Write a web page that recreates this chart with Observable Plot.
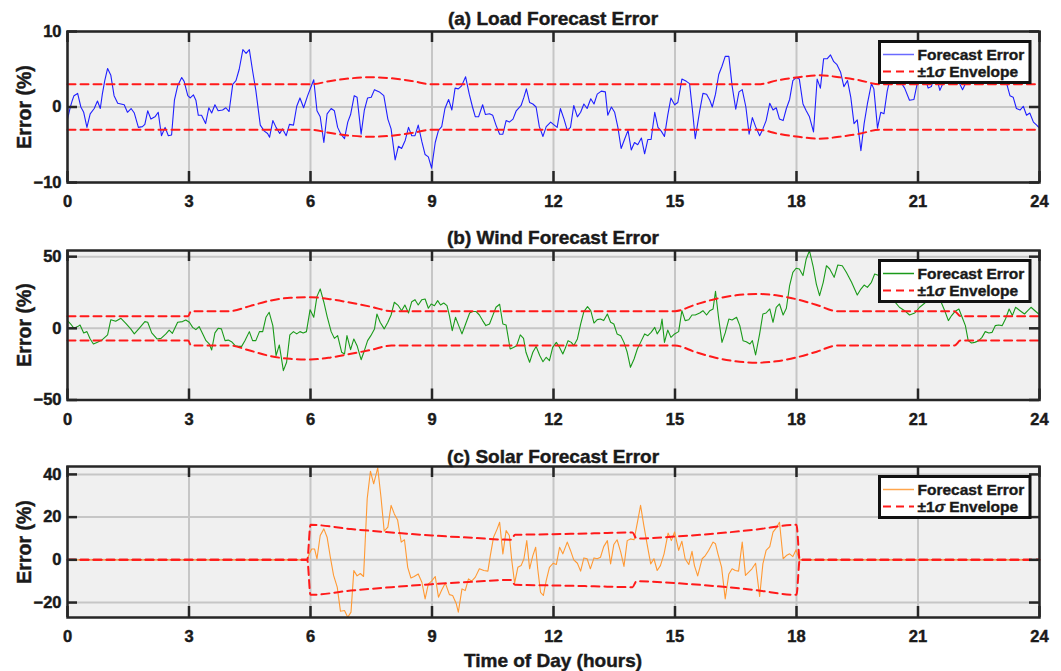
<!DOCTYPE html>
<html><head><meta charset="utf-8">
<script src="https://cdn.jsdelivr.net/npm/d3@7"></script>
<script src="https://cdn.jsdelivr.net/npm/@observablehq/plot@0.6"></script>
<style>
body{margin:0;background:#fff;}
#wrap{position:relative;width:1061px;height:671px;font-family:"Liberation Sans",Arial,Helvetica,sans-serif;font-weight:bold;color:#262626;overflow:hidden;}
.panel{position:absolute;left:0;}
.panel text{stroke:#1a1a1a;stroke-width:0.45px;}
.title{position:absolute;left:67px;width:972px;text-align:center;font-size:19px;line-height:20px;color:#1a1a1a;-webkit-text-stroke:0.45px #1a1a1a;}
.ylab{position:absolute;left:-51px;width:150px;height:22px;line-height:22px;text-align:center;font-size:19.5px;transform:rotate(-90deg);color:#1a1a1a;-webkit-text-stroke:0.45px #1a1a1a;}
.xlab{position:absolute;left:67px;width:972px;text-align:center;font-size:19px;line-height:22px;color:#1a1a1a;-webkit-text-stroke:0.45px #1a1a1a;}
.legend{position:absolute;left:878px;}
.legend text{stroke:#1a1a1a;stroke-width:0.4px;}
</style>
</head><body>
<div id="wrap"></div>
<script>
// ---------- DATA ----------
const xTicks = [0,3,6,9,12,15,18,21,24];
const loadTicks = [-10,0,10];
const windTicks = [-50,0,50];
const solarTicks = [-20,0,20,40];

const loadHours = [0,0.07,0.12,0.16,0.25,0.33,0.4,0.48,0.56,0.66,0.74,0.81,0.86,0.92,0.99,1.07,1.15,1.24,1.4,1.48,1.57,1.65,1.75,1.85,1.91,1.98,2.06,2.16,2.24,2.32,2.41,2.49,2.57,2.64,2.72,2.82,2.88,2.97,3.03,3.11,3.17,3.23,3.31,3.41,3.49,3.56,3.64,3.72,3.83,3.91,3.99,4.08,4.16,4.24,4.33,4.41,4.49,4.57,4.65,4.76,4.86,4.94,4.99,5.07,5.15,5.24,5.31,5.4,5.48,5.58,5.66,5.74,5.83,5.93,6.08,6.16,6.24,6.33,6.41,6.51,6.59,6.67,6.75,6.84,6.92,6.99,7.08,7.15,7.25,7.33,7.41,7.5,7.58,7.7,7.81,7.91,7.99,8.09,8.17,8.25,8.34,8.42,8.5,8.58,8.66,8.75,8.83,8.91,8.99,9.08,9.16,9.24,9.32,9.41,9.49,9.57,9.65,9.73,9.83,9.92,10.0,10.07,10.15,10.25,10.32,10.42,10.5,10.58,10.67,10.75,10.83,10.91,11.0,11.08,11.2,11.27,11.33,11.41,11.49,11.57,11.65,11.74,11.82,11.93,12.02,12.09,12.17,12.26,12.34,12.42,12.5,12.59,12.67,12.75,12.83,12.92,13.0,13.08,13.18,13.28,13.34,13.43,13.51,13.59,13.67,13.76,13.84,13.92,14.0,14.08,14.17,14.25,14.33,14.41,14.5,14.58,14.66,14.74,14.82,14.9,14.99,15.07,15.17,15.28,15.36,15.44,15.5,15.61,15.69,15.78,15.86,15.92,16.0,16.08,16.16,16.24,16.33,16.41,16.5,16.58,16.66,16.75,16.83,16.91,16.99,17.09,17.17,17.25,17.34,17.42,17.5,17.58,17.67,17.75,17.83,17.91,17.99,18.07,18.16,18.24,18.32,18.42,18.51,18.59,18.67,18.76,18.84,18.92,19.0,19.09,19.17,19.26,19.34,19.42,19.5,19.59,19.67,19.75,19.85,19.91,20.0,20.08,20.16,20.24,20.3,20.43,20.55,20.67,20.79,20.9,20.98,21.08,21.17,21.25,21.33,21.43,21.54,21.63,21.75,21.87,22.0,22.1,22.2,22.32,22.45,22.57,22.7,22.82,22.94,23.07,23.19,23.27,23.35,23.43,23.52,23.6,23.68,23.76,23.85,23.93,24];
const loadError = [-1.6,0,0.9,1.5,1.8,0,-0.7,-2.7,-0.9,-0.2,0.8,-0.2,1.7,3.5,5.1,4.2,1.5,0.5,0.3,-0.7,-0.2,-0.8,-2.7,-2.6,-2.3,-0.5,-1.6,-1.3,-0.7,-3.8,-2.7,-3.8,-3.7,0.9,2.8,3.9,3.4,1.5,1.2,1.6,0.9,-1.1,-1.1,-2.2,-0.1,-0.8,0.3,-0.5,-0.4,-0.1,-0.6,3.0,3.5,5.0,7.6,7.1,7.6,4.8,2.2,-2.4,-3.2,-3.5,-4.0,-1.8,-2.7,-3.5,-2.9,-3.8,-2.3,-2.4,0.1,1.2,-0.1,1.5,3.6,-0.5,-1.3,-4.7,-0.9,-0.2,-0.5,-2.7,-3.6,-4.2,-2.0,-1.0,1.5,1.3,-3.6,-0.4,1.2,1.3,2.3,2.0,1.5,-1.6,-2.9,-7.0,-5.2,-5.5,-4.4,-2.7,-3.8,-3.8,-2.4,-4.6,-6.3,-6.6,-8.1,-4.7,-3.1,-2.6,-0.2,1.0,-0.4,2.5,2.4,2.8,4.0,1.7,0,-1.3,-1.3,0.3,-1.0,-0.9,-1.1,-2.4,-3.6,-3.6,-1.8,-2.0,-1.6,-0.5,0.2,1.3,2.4,0.6,0.4,0,-2.6,-3.9,-2.6,-2.0,-2.4,-2.7,-0.2,-1.6,-3.1,-2.7,0.2,-1.3,-0.7,0.4,-0.2,1.1,0.4,1.7,2.1,2.0,-1.1,0,-0.7,-2.7,-5.5,-4.2,-3.1,-5.7,-4.7,-5.0,-4.1,-6.2,-4.3,-4.3,-0.7,-2.7,-3.2,-3.9,-1.1,1.2,0.3,0.6,3.7,3.4,3.1,-0.9,-4.2,-0.5,1.8,1.7,0.9,0,1.7,4.3,5.4,6.7,6.7,2.8,-0.3,2.0,2.3,0,-3.6,-1.4,-2.6,-3.8,-2.9,-1.8,0.5,-0.4,-0.1,-1.6,-1.8,-0.2,1.0,3.5,3.9,3.7,0.4,-0.5,-1.3,-3.3,3.7,2.5,6.4,6.4,6.9,6.0,5.6,4.6,2.7,3.5,1.3,-2.2,-1.7,-5.8,-2.2,0.4,3.1,2.4,-2.8,-0.7,-0.9,2.1,3.5,4.5,3.5,2.5,0.9,1.0,3.1,5.0,4.0,2.5,2.7,4.5,2.2,3.3,5.2,4.0,3.4,2.3,3.4,4.6,3.8,5.0,4.0,3.5,4.2,3.3,3.1,1.5,1.3,-0.2,-0.4,0.1,-1.1,-0.8,-2.0,-2.4,-2.8];

const windHours = [0,0.08,0.16,0.25,0.31,0.4,0.48,0.56,0.64,0.74,0.86,0.99,1.07,1.19,1.32,1.44,1.56,1.65,1.77,1.91,1.98,2.08,2.21,2.31,2.43,2.51,2.59,2.72,2.84,2.92,3.01,3.09,3.17,3.25,3.34,3.42,3.5,3.56,3.64,3.72,3.8,3.89,3.97,4.05,4.14,4.22,4.3,4.38,4.49,4.57,4.65,4.74,4.82,4.9,4.98,5.07,5.15,5.23,5.33,5.41,5.49,5.58,5.66,5.74,5.82,5.9,5.99,6.08,6.16,6.24,6.33,6.41,6.51,6.59,6.67,6.77,6.84,6.9,6.99,7.07,7.15,7.25,7.33,7.41,7.49,7.58,7.64,7.72,7.82,7.91,7.99,8.07,8.17,8.25,8.33,8.42,8.5,8.58,8.66,8.75,8.83,8.91,8.98,9.06,9.14,9.21,9.29,9.37,9.43,9.5,9.58,9.66,9.74,9.83,9.93,10.0,10.09,10.17,10.25,10.33,10.42,10.5,10.58,10.67,10.75,10.83,10.93,11.01,11.09,11.18,11.26,11.32,11.41,11.49,11.57,11.66,11.74,11.82,11.9,11.98,12.07,12.15,12.23,12.29,12.36,12.44,12.5,12.59,12.67,12.75,12.84,12.92,13.0,13.08,13.16,13.24,13.33,13.41,13.49,13.57,13.66,13.74,13.82,13.9,13.99,14.07,14.15,14.25,14.33,14.41,14.5,14.56,14.64,14.68,14.74,14.82,14.9,14.99,15.09,15.17,15.25,15.34,15.42,15.5,15.61,15.69,15.78,15.86,15.94,16.0,16.08,16.16,16.24,16.33,16.41,16.52,16.6,16.68,16.76,16.85,16.91,16.99,17.09,17.17,17.25,17.34,17.42,17.5,17.58,17.67,17.75,17.83,17.91,17.99,18.07,18.16,18.24,18.32,18.41,18.49,18.57,18.66,18.74,18.82,18.93,19.02,19.13,19.23,19.36,19.5,19.59,19.67,19.75,19.85,19.93,20.0,20.16,20.33,20.45,20.54,20.67,20.79,20.92,21.04,21.17,21.29,21.46,21.58,21.66,21.75,21.83,21.91,22.01,22.09,22.17,22.24,22.32,22.4,22.5,22.58,22.66,22.75,22.83,22.91,22.99,23.08,23.16,23.25,23.33,23.41,23.52,23.63,23.71,23.79,23.93,24];
const windError = [5.4,3.0,0,1.2,2.3,-3.2,-2.3,-7.4,-10.9,-9.7,-7.9,-4.6,6.0,4.9,7.0,3.5,-0.4,-3.9,0,4.7,4.2,-3.2,-7.4,-7.0,-3.9,-1.2,-3.5,4.2,4.7,5.8,4.2,0.7,-0.9,1.2,-3.9,-8.6,-10.9,-15.1,-3.2,0,-0.4,-8.6,-8.2,-9.3,-12.1,-12.6,-12.6,-8.6,-2.3,-8.6,-8.6,-2.3,-2.3,7.7,11.2,1.9,-19.0,-11.6,-29.5,-23.7,-4.6,-2.3,-3.9,-2.3,-3.2,-2.3,13.0,7.7,22.3,27.5,18.2,8.4,-2.3,-7.0,-5.1,-16.7,-17.9,-5.1,-14.9,-7.4,-12.1,-21.9,-15.6,-8.6,-5.1,-0.4,10.0,4.2,-0.4,4.2,9.3,18.2,15.8,12.3,16.3,10.7,18.6,20.0,16.3,20.0,20.5,14.0,17.0,15.8,19.3,16.3,17.7,15.8,8.9,-1.6,7.7,1.9,-3.9,3.0,10.7,11.7,11.7,9.3,5.4,1.9,3.0,8.9,14.7,16.8,3.0,2.3,-14.4,-13.3,-12.1,-4.6,-7.0,-16.7,-23.7,-16.7,-12.6,-19.0,-23.3,-20.2,-22.6,-13.3,-9.8,-13.3,-17.9,-13.9,-8.6,-9.8,-12.1,-7.4,3.0,11.7,15.1,12.3,3.7,6.1,6.5,5.4,10.0,4.2,3.0,-3.9,-5.1,-9.8,-16.7,-27.2,-21.4,-14.4,-9.8,-3.9,-5.1,-2.8,0.7,-3.9,-0.4,6.5,-9.8,-1.2,-6.3,-3.9,-2.3,12.3,5.4,6.0,9.3,9.3,10.7,12.3,9.3,12.3,13.5,25.8,6.5,-9.8,-3.2,6.5,5.8,7.7,1.9,-8.6,-9.3,-10.9,-8.6,-18.6,-3.9,10.0,10.7,13.5,4.2,14.7,17.0,9.3,14.0,29.8,39.1,41.9,41.4,36.8,48.4,54.2,43.3,30.9,22.8,32.1,43.7,41.4,35.6,44.2,43.7,39.1,32.1,23.2,27.4,30.2,28.6,32.1,37.9,37.2,35.0,28.0,17.7,14.7,12.3,9.3,10.7,14.7,17.7,25.0,30.0,17.7,12.3,5.4,8.9,11.7,13.5,7.7,1.9,-8.6,-10.2,-9.8,-8.6,-6.3,-2.3,-3.2,-2.8,1.9,2.3,1.9,6.5,13.5,8.9,14.7,12.3,10.0,12.3,14.7,11.2,9.5];

const solarHours = [0,5.92,5.97,6.03,6.1,6.16,6.24,6.33,6.41,6.49,6.57,6.66,6.74,6.84,6.92,7.0,7.07,7.15,7.23,7.31,7.4,7.48,7.56,7.66,7.74,7.82,7.91,7.99,8.07,8.15,8.24,8.32,8.4,8.48,8.56,8.66,8.75,8.83,8.91,8.99,9.08,9.16,9.24,9.33,9.43,9.51,9.6,9.65,9.74,9.82,9.9,9.98,10.07,10.17,10.28,10.38,10.44,10.52,10.61,10.67,10.75,10.83,10.91,10.97,11.04,11.12,11.2,11.27,11.34,11.41,11.49,11.56,11.61,11.68,11.75,11.82,11.9,11.99,12.07,12.15,12.23,12.34,12.42,12.5,12.59,12.67,12.75,12.83,12.91,13.0,13.08,13.16,13.24,13.33,13.41,13.49,13.57,13.66,13.74,13.82,13.9,13.99,14.08,14.15,14.23,14.31,14.4,14.48,14.56,14.64,14.73,14.83,14.91,14.99,15.09,15.17,15.25,15.34,15.42,15.48,15.56,15.67,15.75,15.83,15.94,16.0,16.06,16.15,16.24,16.33,16.41,16.49,16.57,16.66,16.74,16.82,16.9,16.99,17.09,17.17,17.25,17.34,17.42,17.5,17.58,17.67,17.75,17.83,17.91,17.99,18.07,24];
const solarError = [0,0,2.8,5.1,5.1,0.5,11.4,14.5,10.6,1.2,-7.3,-12.8,-24.1,-23.7,-26.9,-24.5,-5.0,-7.5,-6.4,-7.8,28.6,41.5,35.6,43.1,29.4,13.4,15.3,25.5,21.5,18.7,8.3,9.4,-3.5,-8.5,-7.8,-6.6,-10.5,-18.3,-11.3,-10.0,-7.8,-17.5,-14.1,-10.9,-16.3,-16.7,-20.6,-24.5,-13.6,-14.4,-8.9,-10.0,-8.1,-4.2,-5.0,-5.3,2.0,10.6,14.5,17.6,2.8,13.7,11.4,-0.3,-10.9,-3.5,-2.7,0.5,9.0,-4.2,2.0,5.9,-4.2,-15.2,-16.7,-9.7,-3.5,-1.6,-2.2,5.9,2.8,8.3,4.4,0,-1.6,-5.3,0.9,0.5,-4.2,0.9,0.5,1.2,6.2,9.0,-1.9,7.2,9.4,3.6,-3.1,9.0,9.8,9.4,18.4,25.5,16.1,7.5,-1.9,0.5,-5.0,-2.7,2.8,12.5,9.0,13.0,4.4,8.7,0.5,-2.2,4.0,-2.7,-7.5,0.5,2.0,4.4,8.3,7.5,2.8,-3.4,-18.3,-6.6,-4.2,-5.0,-5.3,8.3,-7.3,-5.8,-4.2,-1.6,-17.2,-1.9,4.4,6.2,13.0,15.0,17.6,0.5,2.0,2.8,1.5,4.7,0,0];

// one-sigma envelope half-widths
const loadSigmaHours = [0,6,6.5,7,7.5,8,8.5,9,17.05,17.55,18.05,18.55,19.05,19.55,20.05,24];
const loadSigma = [3,3,3.45,3.8,3.95,3.8,3.45,3,3,3.55,3.95,4.2,3.95,3.55,3,3];
const windSigmaHours = [0,2.98,3.05,4.0,4.5,5.0,5.5,6.0,6.5,7.0,7.5,8.0,15.0,15.5,16.0,16.5,17.0,17.5,18.0,18.5,19.0,21.9,22.05,24];
const windSigma = [8.5,8.5,12,12,15.5,19.3,21.3,21.7,20.3,17.8,15.0,12,12,16.5,20.5,23,24,23,20.3,16.3,12,12,8.5,8.5];
const solarSigmaHours = [0,5.92,6.0,7,8,9,10,10.95,11.05,12,13,13.95,14.05,15,16,17,18,18.08,24];
const solarSigma = [0,0,16.4,14.4,12.8,11.4,10.3,9.4,11.7,12.0,12.4,12.8,10.0,10.9,12.3,14.2,16.4,0,0];

const panels = [
  {title:"(a) Load Forecast Error", hours:loadHours, err:loadError, color:"#1f1fff", legendColor:"#6a6aff", sh:loadSigmaHours, s:loadSigma, domain:[-10,10], ticks:loadTicks, top:31, h:151},
  {title:"(b) Wind Forecast Error", hours:windHours, err:windError, color:"#1a9a1a", legendColor:"#1a9a1a", sh:windSigmaHours, s:windSigma, domain:[-50,54.3], ticks:windTicks, top:250, h:149.5},
  {title:"(c) Solar Forecast Error", hours:solarHours, err:solarError, color:"#ff9933", legendColor:"#ffa64d", sh:solarSigmaHours, s:solarSigma, domain:[-27,43.7], ticks:solarTicks, top:466, h:151}
];
const titleCenters = [19, 238, 456.5];

// ---------- DRAW ----------
const wrap = document.getElementById("wrap");
const W = 1061, ML = 67, MR = 22, MT = 30, MB = 40;
const plotW = W - ML - MR;
const axisColor = "#262626";

panels.forEach((p, idx) => {
  const errData = p.hours.map((h, i) => ({h, v: p.err[i]}));
  const up = p.sh.map((h, i) => ({h, v: p.s[i]}));
  const lo = p.sh.map((h, i) => ({h, v: -p.s[i]}));
  const chart = Plot.plot({
    width: W, height: MT + p.h + MB,
    marginLeft: ML, marginRight: MR, marginTop: MT, marginBottom: MB,
    style: {fontFamily: '"Liberation Sans", Arial, sans-serif', fontSize: "16.5px", fontWeight: "bold", color: axisColor, background: "transparent", overflow: "visible"},
    x: {domain: [0, 24], ticks: xTicks, label: null},
    y: {domain: p.domain, ticks: p.ticks, label: null},
    marks: [
      Plot.frame({fill: "#f0f0f0", stroke: null}),
      Plot.gridX(xTicks, {stroke: "#c6c6c6", strokeOpacity: 1, strokeWidth: 2}),
      Plot.gridY(p.ticks, {stroke: "#c6c6c6", strokeOpacity: 1, strokeWidth: 2}),
      Plot.line(errData, {x: "h", y: "v", stroke: p.color, strokeWidth: 1.1, clip: true}),
      Plot.line(up, {x: "h", y: "v", curve: "monotone-x", stroke: "#ff1a1a", strokeWidth: 2, strokeDasharray: "8,5"}),
      Plot.line(lo, {x: "h", y: "v", curve: "monotone-x", stroke: "#ff1a1a", strokeWidth: 2, strokeDasharray: "8,5"}),
      Plot.tickX(xTicks, {x: d => d, stroke: axisColor, strokeWidth: 2.5, insetBottom: p.h - 11}),
      Plot.tickX(xTicks, {x: d => d, stroke: axisColor, strokeWidth: 2.5, insetTop: p.h - 11}),
      Plot.tickY(p.ticks, {y: d => d, stroke: axisColor, strokeWidth: 2.5, insetRight: plotW - 10}),
      Plot.tickY(p.ticks, {y: d => d, stroke: axisColor, strokeWidth: 2.5, insetLeft: plotW - 10}),
      Plot.axisX(xTicks, {tickSize: 0, tickPadding: 13, label: null, fill: "#1a1a1a"}),
      Plot.axisY(p.ticks, {tickSize: 0, tickPadding: 6, label: null, fill: "#1a1a1a"}),
      Plot.frame({stroke: axisColor, strokeWidth: 2.5})
    ]
  });
  chart.classList.add("panel");
  chart.style.top = (p.top - MT) + "px";
  wrap.appendChild(chart);

  const t = document.createElement("div");
  t.className = "title";
  t.textContent = p.title;
  t.style.top = (titleCenters[idx] - 10) + "px";
  wrap.appendChild(t);

  const yl = document.createElement("div");
  yl.className = "ylab";
  yl.textContent = "Error (%)";
  yl.style.top = (p.top + p.h / 2 - 11) + "px";
  wrap.appendChild(yl);

  const lg = document.createElement("div");
  lg.className = "legend";
  lg.style.top = (p.top + 9) + "px";
  lg.innerHTML = `<svg width="154" height="44" style="display:block;font-family:'Liberation Sans',Arial,sans-serif;font-weight:bold;font-size:15.5px">
    <rect x="1.5" y="1.5" width="150.5" height="41" fill="#fff" stroke="#111" stroke-width="3"/>
    <line x1="5" x2="36" y1="14.5" y2="14.5" stroke="${p.legendColor}" stroke-width="1.5"/>
    <line x1="5" x2="36" y1="31.5" y2="31.5" stroke="#ff1a1a" stroke-width="2" stroke-dasharray="8,5"/>
    <text x="39.5" y="14.5" dy="0.36em" fill="#1a1a1a">Forecast Error</text>
    <text x="39.5" y="31.5" dy="0.36em" fill="#1a1a1a">±1<tspan font-style="italic">σ</tspan> Envelope</text>
  </svg>`;
  wrap.appendChild(lg);
});

const xl = document.createElement("div");
xl.className = "xlab";
xl.textContent = "Time of Day (hours)";
xl.style.top = "650px";
wrap.appendChild(xl);
</script>
</body></html>
